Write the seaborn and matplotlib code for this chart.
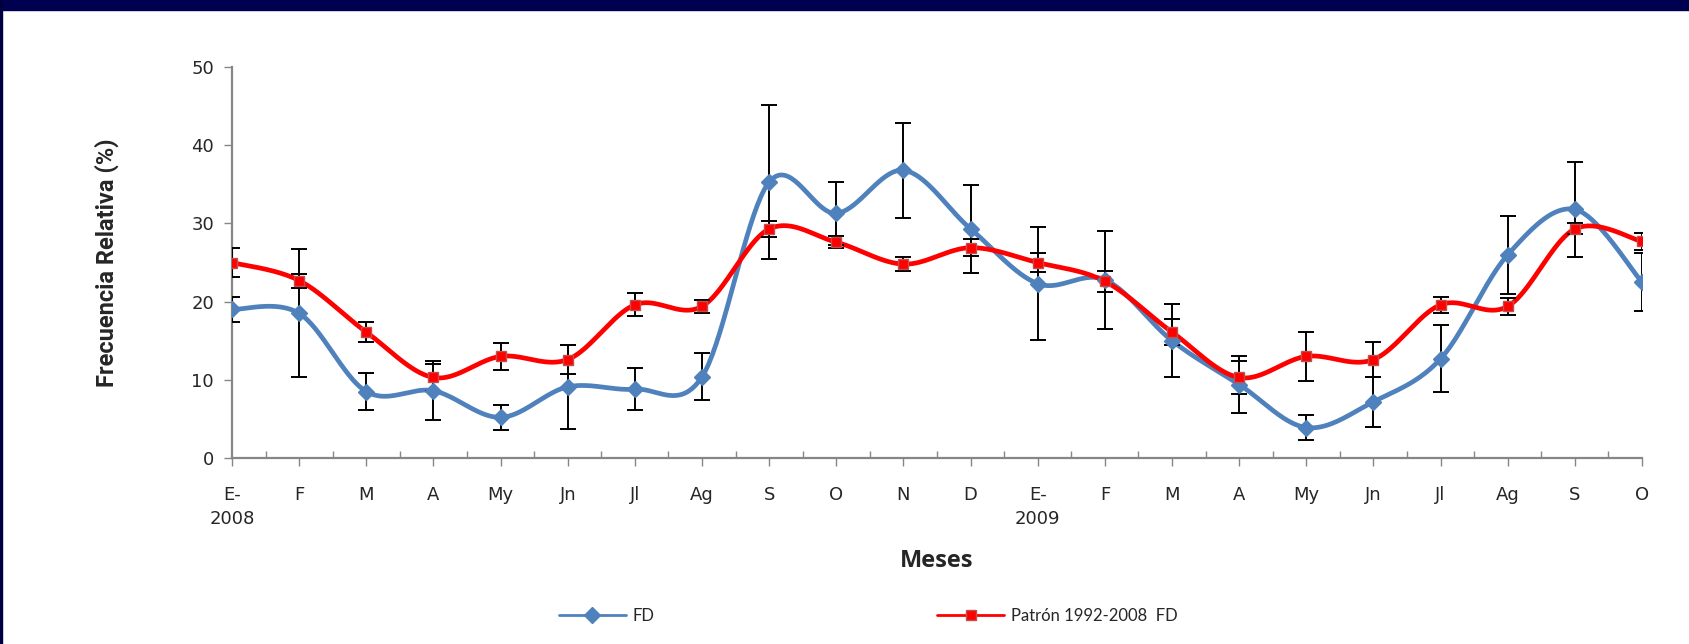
import numpy as np
import pandas as pd
import matplotlib.pyplot as plt
import seaborn as sns
from matplotlib.lines import Line2D
from matplotlib.patches import Rectangle

# data
meses = ["E-\n2008", "F", "M", "A", "My", "Jn", "Jl", "Ag", "S", "O", "N", "D",
         "E-\n2009", "F", "M", "A", "My", "Jn", "Jl", "Ag", "S", "O"]
fd = [19.0, 18.5, 8.5, 8.6, 5.2, 9.1, 8.8, 10.4, 35.3, 31.3, 36.8, 29.3,
      22.3, 22.8, 15.0, 9.4, 3.9, 7.2, 12.7, 26.0, 31.8, 22.5]
fd_err = [1.6, 8.2, 2.35, 3.8, 1.6, 5.4, 2.65, 3.0, 9.8, 4.0, 6.05, 5.6,
          7.2, 6.3, 4.65, 3.65, 1.65, 3.2, 4.3, 5.0, 6.1, 3.7]
patron = [25.0, 22.7, 16.1, 10.3, 13.0, 12.6, 19.6, 19.4, 29.3, 27.6, 24.8, 26.9,
          25.0, 22.6, 16.1, 10.3, 13.0, 12.6, 19.6, 19.4, 29.3, 27.7]
patron_err = [1.85, 0.9, 1.3, 1.7, 1.75, 1.8, 1.45, 0.8, 1.0, 0.8, 0.85, 1.1,
              1.25, 1.35, 1.65, 2.05, 3.1, 2.25, 1.05, 1.05, 0.7, 1.1]

AZUL = "#4F81BD"
ROJO = "#FF0000"


def suavizar(y, n=40):
    # excel-style smoothed line (bezier, control points at 1/6 of neighbour span)
    p = np.column_stack([np.arange(len(y)), np.asarray(y, float)])
    pp = np.vstack([p[0], p, p[-1]])
    out = []
    for i in range(len(p) - 1):
        p0, p3 = p[i], p[i + 1]
        c1 = p0 + (pp[i + 2] - pp[i]) / 6
        c2 = p3 - (pp[i + 3] - pp[i + 1]) / 6
        t = np.linspace(0, 1, n)[:, None]
        out.append((1 - t) ** 3 * p0 + 3 * (1 - t) ** 2 * t * c1 + 3 * (1 - t) * t ** 2 * c2 + t ** 3 * p3)
    return np.vstack(out)


sns.set_style("white")
plt.rcParams['font.family'] = ['DejaVu Sans']

fig = plt.figure(figsize=(16.89, 6.44), dpi=100)
ax = fig.add_axes([0.1374, 0.2888, 0.8348, 0.607])

x = np.arange(len(meses))
for vals, errs, col, mk, ms in [(fd, fd_err, AZUL, "D", 8), (patron, patron_err, ROJO, "s", 7)]:
    curva = pd.DataFrame(suavizar(vals), columns=["x", "y"])
    sns.lineplot(data=curva, x="x", y="y", ax=ax, color=col, lw=3.4, sort=False, zorder=2)
    ax.errorbar(x, vals, yerr=errs, fmt="none", ecolor="black", elinewidth=1.4,
                capsize=6, capthick=1.4, zorder=3)
    ax.plot(x, vals, ls="none", marker=mk, ms=ms, color=col,
            mec="#C0504D" if col == ROJO else col, mew=1, zorder=4)

ax.set_xlim(0, 21)
ax.set_ylim(0, 50)
ax.set_yticks(range(0, 51, 10))
ax.set_xticks(x)
ax.set_xticklabels(meses, fontsize=13, linespacing=1.45)
ax.set_xticks(x[:-1] + 0.5, minor=True)
ax.tick_params(axis="y", labelsize=13, length=6, width=1, color="#868686", left=True, pad=7)
ax.tick_params(axis="x", which="major", length=6, width=1, color="#868686", bottom=True, pad=14)
ax.tick_params(axis="x", which="minor", length=5, width=1, color="#868686", bottom=True, direction="in")

for s in ["top", "right"]:
    ax.spines[s].set_visible(False)
for s in ["left", "bottom"]:
    ax.spines[s].set_color("#868686")
    ax.spines[s].set_linewidth(1.6)

ax.set_xlabel("Meses", fontsize=17, fontweight="bold", family=["Open Sans", "DejaVu Sans"])
ax.xaxis.set_label_coords(0.5, -0.232)
ax.set_ylabel("Frecuencia Relativa (%)", fontsize=17, fontweight="bold",
              family=["DejaVu Sans"], fontstretch="condensed")
ax.yaxis.set_label_coords(-0.08, 0.5)
ax.yaxis.label.set_family(["DejaVu Sans Condensed", "Liberation Sans Narrow", "Roboto"])

handles = [
    Line2D([], [], color=AZUL, lw=2, marker="D", ms=8, mec=AZUL),
    Line2D([], [], color=ROJO, lw=2, marker="s", ms=7, mec="#C0504D"),
]
fig.legend(handles, ["FD", "Patrón 1992-2008  FD"], loc="center", bbox_to_anchor=(0.514, 0.044),
           ncol=2, frameon=False, handlelength=4, columnspacing=17, handletextpad=0.4,
           prop={"family": ["Lato", "DejaVu Sans"], "size": 12})

# slide frame
fig.patches.append(Rectangle((0, 1 - 10 / 644), 1, 10 / 644, transform=fig.transFigure,
                             color="#000050", zorder=10))
fig.patches.append(Rectangle((0, 0), 2 / 1689, 1, transform=fig.transFigure,
                             color="#000040", zorder=10))

plt.savefig("out.png", dpi=100)
